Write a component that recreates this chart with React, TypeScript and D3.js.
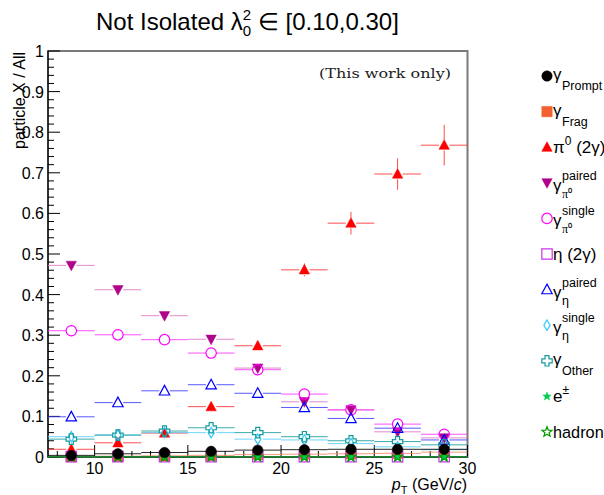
import React from 'react';
import * as d3 from 'd3';

// ---------------- data ----------------
const ptBins = [8.75, 11.25, 13.75, 16.25, 18.75, 21.25, 23.75, 26.25, 28.75];
const binHalfWidth = 1.25;
const xTickMajor = [10, 15, 20, 25, 30];
const yTickMajor = [0, 0.1, 0.2, 0.3, 0.4, 0.5, 0.6, 0.7, 0.8, 0.9, 1];
const yTickLabels = ['0', '0.1', '0.2', '0.3', '0.4', '0.5', '0.6', '0.7', '0.8', '0.9', '1'];

const promptVals = [0.004, 0.008, 0.011, 0.014, 0.017, 0.018, 0.019, 0.019, 0.019];
const fragVals = [0.001, 0.002, 0.003, 0.004, 0.006, 0.007, 0.008, 0.009, 0.012];
const pi0Vals = [0.019, 0.035, 0.059, 0.124, 0.274, 0.461, 0.576, 0.697, 0.768];
const pi0Errs = [0.003, 0.004, 0.006, 0.008, 0.01, 0.016, 0.028, 0.039, 0.05];
const pairedPi0Vals = [0.472, 0.412, 0.348, 0.29, 0.219, 0.136, 0.116, 0.062, 0.047];
const singlePi0Vals = [0.311, 0.301, 0.289, 0.256, 0.215, 0.155, 0.116, 0.081, 0.056];
const etaVals = [0.001, 0.001, 0.001, 0.001, 0.001, 0.001, 0.001, 0.001, 0.001];
const pairedEtaVals = [0.099, 0.134, 0.163, 0.178, 0.157, 0.122, 0.095, 0.071, 0.042];
const singleEtaVals = [0.05, 0.054, 0.06, 0.06, 0.044, 0.042, 0.033, 0.025, 0.018];
const otherVals = [0.044, 0.054, 0.064, 0.072, 0.06, 0.05, 0.04, 0.038, 0.03];
const electronVals = [0.0005, 0.0005, 0.0005, 0.0005, 0.0005, 0.0005, 0.0005, 0.0005, 0.0005];
const hadronVals = [0.0005, 0.0005, 0.0005, 0.0005, 0.0005, 0.0005, 0.0005, 0.0005, 0.0005];

type Label = { base: string; sup?: string; sub?: string; rest?: string };
type Series = {
  key: string;
  vals: number[];
  errs?: number[];
  marker: string;
  color: string;
  lineColor: string;
  label: Label;
};

const series: Series[] = [
  { key: 'prompt', vals: promptVals, marker: 'circle', color: '#000000', lineColor: '#000000', label: { base: 'γ', sub: 'Prompt' } },
  { key: 'frag', vals: fragVals, marker: 'square', color: '#f26030', lineColor: '#f58a60', label: { base: 'γ', sub: 'Frag' } },
  { key: 'pi0', vals: pi0Vals, errs: pi0Errs, marker: 'triUp', color: '#ff0000', lineColor: '#ff3030', label: { base: 'π', sup: '0', rest: ' (2γ)' } },
  { key: 'pairedPi0', vals: pairedPi0Vals, marker: 'triDown', color: '#b0048a', lineColor: '#dd77c4', label: { base: 'γ', sup: 'paired', sub: 'π⁰' } },
  { key: 'singlePi0', vals: singlePi0Vals, marker: 'openCircle', color: '#ff00ff', lineColor: '#ff33ff', label: { base: 'γ', sup: 'single', sub: 'π⁰' } },
  { key: 'eta', vals: etaVals, marker: 'openSquare', color: '#cc33ee', lineColor: '#cc55ee', label: { base: 'η', rest: ' (2γ)' } },
  { key: 'pairedEta', vals: pairedEtaVals, marker: 'openTriUp', color: '#0000ff', lineColor: '#3d3dff', label: { base: 'γ', sup: 'paired', sub: 'η' } },
  { key: 'singleEta', vals: singleEtaVals, marker: 'openDiamond', color: '#33c8ff', lineColor: '#55d0ff', label: { base: 'γ', sup: 'single', sub: 'η' } },
  { key: 'other', vals: otherVals, marker: 'openCross', color: '#139a9a', lineColor: '#199c9c', label: { base: 'γ', sub: 'Other' } },
  { key: 'electron', vals: electronVals, marker: 'star', color: '#00cc55', lineColor: '#00aa44', label: { base: 'e', sup: '±' } },
  { key: 'hadron', vals: hadronVals, marker: 'openStar', color: '#009900', lineColor: '#008800', label: { base: 'hadron' } },
];

// ---------------- layout ----------------
const W = 604;
const H = 495;
const X0 = 48;
const X1 = 467.5;
const Y0 = 457;
const Y1 = 51;
const R = 5.2;

const x = d3.scaleLinear().domain([7.5, 30]).range([X0, X1]);
const y = d3.scaleLinear().domain([0, 1]).range([Y0, Y1]);

function markerPath(kind: string, r: number): string {
  switch (kind) {
    case 'circle':
    case 'openCircle':
      return d3.symbol(d3.symbolCircle, Math.PI * r * r)() as string;
    case 'square':
    case 'openSquare':
      return `M${-r},${-r}H${r}V${r}H${-r}Z`;
    case 'triUp':
    case 'openTriUp':
      return `M0,${-r * 1.05}L${r * 1.0},${r * 0.8}L${-r * 1.0},${r * 0.8}Z`;
    case 'triDown':
      return `M0,${r * 1.05}L${r * 1.0},${-r * 0.8}L${-r * 1.0},${-r * 0.8}Z`;
    case 'openDiamond':
      return `M0,${-r}L${r * 0.6},0L0,${r}L${-r * 0.6},0Z`;
    case 'openCross': {
      const a = r * 0.38;
      return `M${-a},${-r}H${a}V${-a}H${r}V${a}H${a}V${r}H${-a}V${a}H${-r}V${-a}H${-a}Z`;
    }
    case 'star':
    case 'openStar': {
      const pts: string[] = [];
      const rs = kind === 'star' ? r * 0.85 : r;
      for (let i = 0; i < 10; i++) {
        const ang = -Math.PI / 2 + (i * Math.PI) / 5;
        const rr = i % 2 === 0 ? rs : rs * 0.42;
        pts.push(`${(rr * Math.cos(ang)).toFixed(2)},${(rr * Math.sin(ang)).toFixed(2)}`);
      }
      return 'M' + pts.join('L') + 'Z';
    }
  }
  return '';
}

function isOpen(kind: string) {
  return kind.startsWith('open');
}

function Marker({ kind, color, cx, cy, r }: { kind: string; color: string; cx: number; cy: number; r: number }) {
  const open = isOpen(kind);
  return (
    <path
      d={markerPath(kind, r)}
      transform={`translate(${cx},${cy})`}
      fill={open ? 'none' : color}
      stroke={color}
      strokeWidth={open ? 1.2 : 0.5}
    />
  );
}

function SeriesMarks({ s }: { s: Series }) {
  return (
    <g>
      {s.vals.map((v, i) => {
        const cx = x(ptBins[i]);
        const cy = y(v);
        const xl = x(ptBins[i] - binHalfWidth);
        const xr = x(ptBins[i] + binHalfWidth);
        const e = s.errs ? s.errs[i] : 0;
        const yt = y(v + e);
        const yb = y(v - e);
        return (
          <g key={i}>
            <line x1={xl} x2={cx - R} y1={cy} y2={cy} stroke={s.lineColor} strokeWidth={1} opacity={0.85} />
            <line x1={cx + R} x2={xr} y1={cy} y2={cy} stroke={s.lineColor} strokeWidth={1} opacity={0.85} />
            {cy - yt > R && <line x1={cx} x2={cx} y1={yt} y2={cy - R} stroke={s.lineColor} strokeWidth={1} opacity={0.85} />}
            {yb - cy > R && <line x1={cx} x2={cx} y1={cy + R} y2={yb} stroke={s.lineColor} strokeWidth={1} opacity={0.85} />}
          </g>
        );
      })}
      {s.vals.map((v, i) => (
        <Marker key={'m' + i} kind={s.marker} color={s.color} cx={x(ptBins[i])} cy={y(v)} r={R} />
      ))}
    </g>
  );
}

function LegendLabel({ label, lx, yc }: { label: Label; lx: number; yc: number }) {
  const hasSup = !!label.sup;
  const hasSub = !!label.sub;
  const stacked = hasSup && hasSub;
  const baseY = stacked ? yc + 8 : hasSub ? yc + 4 : yc + 6;
  const baseW = label.base === 'γ' ? 9 : label.base === 'π' ? 10 : label.base === 'η' ? 10 : label.base === 'e' ? 9.5 : 0;
  const isWord = label.base.length > 1;
  return (
    <g fontFamily="'Liberation Sans', Arial, sans-serif" fill="#000">
      <text x={lx} y={baseY} fontSize={isWord ? 16.3 : 17}>
        {label.base}
        {label.sup && !stacked && (
          <tspan fontSize={12} dy={-8}>{label.sup}</tspan>
        )}
        {label.rest && (
          <tspan dy={label.sup ? 8 : 0}>{label.rest}</tspan>
        )}
      </text>
      {stacked && (
        <text x={lx + baseW} y={yc - 3} fontSize={12.5}>{label.sup}</text>
      )}
      {hasSub && (
        <text x={lx + baseW} y={stacked ? yc + 15 : yc + 14} fontSize={label.sub === 'π⁰' ? 12 : 12.5}
          fontFamily={label.sub === 'π⁰' ? "'Liberation Serif', serif" : undefined}>{label.sub}</text>
      )}
    </g>
  );
}

export default function App() {
  const yMinor = d3.range(0, 1.0001, 0.02);
  const xMinor = d3.range(8, 30.001, 1);
  const legendX = 547;
  const legendY0 = 76;
  const legendStep = 35.6;
  const drawOrder = [...series.slice(1), series[0]];
  return (
    <svg width={W} height={H} style={{ position: 'absolute', left: 0, top: 0, background: '#fff' }}
      fontFamily="'Liberation Sans', Arial, sans-serif">
      <rect x={0} y={0} width={W} height={H} fill="#fff" />
      {/* title */}
      <text x={96} y={30} fontSize={24} fill="#000">
        Not Isolated λ
        <tspan fontSize={15} dy={-10}>2</tspan>
        <tspan fontSize={15} dx={-8.3} dy={16}>0</tspan>
        <tspan dy={-6}> ∈ [0.10,0.30]</tspan>
      </text>

      {/* frame */}
      <rect x={X0} y={Y1} width={X1 - X0} height={Y0 - Y1} fill="none" stroke="#7a7a7a" strokeWidth={2} />

      {/* y ticks */}
      {yMinor.map((t, i) => {
        const major = Math.abs(t * 10 - Math.round(t * 10)) < 1e-6;
        return <line key={'ym' + i} x1={X0} x2={X0 + (major ? 12 : 6)} y1={y(t)} y2={y(t)} stroke="#000" strokeWidth={1} />;
      })}
      {yTickMajor.map((t, i) => (
        <text key={'yl' + i} x={44} y={y(t) + 6} fontSize={16} textAnchor="end" fill="#000">{yTickLabels[i]}</text>
      ))}
      {/* x ticks */}
      {xMinor.map((t, i) => {
        const major = xTickMajor.includes(Math.round(t));
        return <line key={'xm' + i} x1={x(t)} x2={x(t)} y1={Y0} y2={Y0 - (major ? 12 : 6)} stroke="#000" strokeWidth={1} />;
      })}
      {xTickMajor.map((t, i) => (
        <text key={'xl' + i} x={x(t)} y={474} fontSize={16} textAnchor="middle" fill="#000">{t}</text>
      ))}

      {/* axis titles */}
      <text x={467} y={490} fontSize={16} textAnchor="end" fill="#000">
        <tspan fontStyle="italic">p</tspan>
        <tspan fontSize={11} dy={4}>T</tspan>
        <tspan dy={-4}> (GeV/</tspan>
        <tspan fontStyle="italic">c</tspan>
        <tspan>)</tspan>
      </text>
      <text transform={`translate(25,52) rotate(-90)`} fontSize={16} textAnchor="end" fill="#000">particle X / All</text>

      <text x={451} y={78} fontSize={12.5} textAnchor="end" fill="#222" fontFamily="'DejaVu Serif', 'Liberation Serif', serif"
        textLength={132} lengthAdjust="spacingAndGlyphs">(This work only)</text>

      {/* axes lines */}
      <line x1={X0} x2={X0} y1={Y0} y2={Y1} stroke="#000" strokeWidth={1.2} />
      <line x1={X0} x2={X1} y1={Y0} y2={Y0} stroke="#000" strokeWidth={1.2} />

      {/* data */}
      <g>
        {drawOrder.map((s) => <SeriesMarks key={s.key} s={s} />)}
      </g>

      {/* legend */}
      {series.map((s, i) => {
        const yc = legendY0 + i * legendStep;
        return (
          <g key={'lg' + s.key}>
            <Marker kind={s.marker} color={s.color} cx={legendX} cy={yc} r={R} />
            <LegendLabel label={s.label} lx={legendX + 6} yc={yc} />
          </g>
        );
      })}
    </svg>
  );
}
